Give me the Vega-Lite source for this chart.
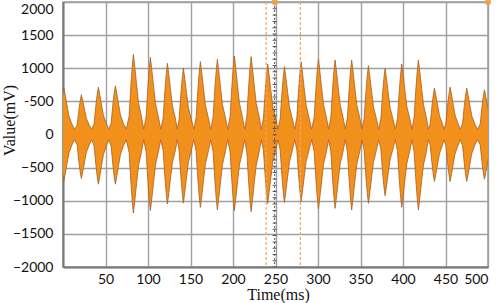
{
  "$schema": "https://vega.github.io/schema/vega-lite/v6.json",
  "width": 425,
  "height": 265,
  "autosize": {"type": "none"},
  "padding": {"left": 63, "top": 2, "right": 10, "bottom": 36},
  "background": "white",
  "config": {
    "view": {"stroke": "#9a9a9a", "strokeWidth": 1.5},
    "axis": {
      "labelFont": "Lato", "labelFontSize": 14, "labelColor": "#111",
      "titleFont": "Liberation Serif", "titleFontSize": 16, "titleFontWeight": "normal", "titleColor": "#111",
      "gridColor": "#a0a0a0", "gridWidth": 1.4, "gridOpacity": 1,
      "domainColor": "#7a7a7a", "domainWidth": 2, "tickSize": 0, "labelOverlap": false
    }
  },
  "datasets": {
    "sig": [
      {"t": -4, "hi": 161, "lo": -161}, {"t": -2, "hi": 420, "lo": -420}, {"t": -0.5, "hi": 581, "lo": -581}, {"t": 1, "hi": 700, "lo": -700}, {"t": 2.8, "hi": 581, "lo": -581}, {"t": 4.8, "hi": 434, "lo": -434}, {"t": 7, "hi": 280, "lo": -280}, {"t": 10.4, "hi": 161, "lo": -161}, {"t": 13.5, "hi": 80, "lo": -80},
      {"t": 16.6, "hi": 138, "lo": -153}, {"t": 18.6, "hi": 360, "lo": -399}, {"t": 20.1, "hi": 498, "lo": -552}, {"t": 21.6, "hi": 600, "lo": -665}, {"t": 23.4, "hi": 498, "lo": -552}, {"t": 25.4, "hi": 372, "lo": -412}, {"t": 27.6, "hi": 240, "lo": -266}, {"t": 31, "hi": 138, "lo": -153}, {"t": 33.8, "hi": 80, "lo": -80},
      {"t": 36.6, "hi": 164, "lo": -173}, {"t": 38.6, "hi": 429, "lo": -450}, {"t": 40.1, "hi": 593, "lo": -623}, {"t": 41.6, "hi": 715, "lo": -750}, {"t": 43.4, "hi": 593, "lo": -623}, {"t": 45.4, "hi": 443, "lo": -465}, {"t": 47.6, "hi": 286, "lo": -300}, {"t": 51, "hi": 164, "lo": -173}, {"t": 53.8, "hi": 80, "lo": -80},
      {"t": 56.6, "hi": 169, "lo": -173}, {"t": 58.6, "hi": 441, "lo": -450}, {"t": 60.1, "hi": 610, "lo": -623}, {"t": 61.6, "hi": 735, "lo": -750}, {"t": 63.4, "hi": 610, "lo": -623}, {"t": 65.4, "hi": 456, "lo": -465}, {"t": 67.6, "hi": 294, "lo": -300}, {"t": 71, "hi": 169, "lo": -173}, {"t": 74.4, "hi": 80, "lo": -80},
      {"t": 77.8, "hi": 278, "lo": -273}, {"t": 79.8, "hi": 726, "lo": -711}, {"t": 81.3, "hi": 1004, "lo": -984}, {"t": 82.8, "hi": 1210, "lo": -1185}, {"t": 84.6, "hi": 1004, "lo": -984}, {"t": 86.6, "hi": 750, "lo": -735}, {"t": 88.8, "hi": 484, "lo": -474}, {"t": 92.2, "hi": 278, "lo": -273}, {"t": 95, "hi": 80, "lo": -80},
      {"t": 97.8, "hi": 268, "lo": -265}, {"t": 99.8, "hi": 699, "lo": -690}, {"t": 101.3, "hi": 967, "lo": -955}, {"t": 102.8, "hi": 1165, "lo": -1150}, {"t": 104.6, "hi": 967, "lo": -955}, {"t": 106.6, "hi": 722, "lo": -713}, {"t": 108.8, "hi": 466, "lo": -460}, {"t": 112.2, "hi": 268, "lo": -265}, {"t": 115, "hi": 80, "lo": -80},
      {"t": 117.8, "hi": 247, "lo": -242}, {"t": 119.8, "hi": 645, "lo": -630}, {"t": 121.3, "hi": 892, "lo": -872}, {"t": 122.8, "hi": 1075, "lo": -1050}, {"t": 124.6, "hi": 892, "lo": -872}, {"t": 126.6, "hi": 667, "lo": -651}, {"t": 128.8, "hi": 430, "lo": -420}, {"t": 132.2, "hi": 247, "lo": -242}, {"t": 134.4, "hi": 80, "lo": -80},
      {"t": 136.6, "hi": 230, "lo": -238}, {"t": 138.6, "hi": 600, "lo": -621}, {"t": 140.1, "hi": 830, "lo": -859}, {"t": 141.6, "hi": 1000, "lo": -1035}, {"t": 143.4, "hi": 830, "lo": -859}, {"t": 145.4, "hi": 620, "lo": -642}, {"t": 147.6, "hi": 400, "lo": -414}, {"t": 151, "hi": 230, "lo": -238}, {"t": 153.8, "hi": 80, "lo": -80},
      {"t": 156.6, "hi": 253, "lo": -253}, {"t": 158.6, "hi": 660, "lo": -660}, {"t": 160.1, "hi": 913, "lo": -913}, {"t": 161.6, "hi": 1100, "lo": -1100}, {"t": 163.4, "hi": 913, "lo": -913}, {"t": 165.4, "hi": 682, "lo": -682}, {"t": 167.6, "hi": 440, "lo": -440}, {"t": 171, "hi": 253, "lo": -253}, {"t": 173.8, "hi": 80, "lo": -80},
      {"t": 176.6, "hi": 261, "lo": -262}, {"t": 178.6, "hi": 681, "lo": -684}, {"t": 180.1, "hi": 942, "lo": -946}, {"t": 181.6, "hi": 1135, "lo": -1140}, {"t": 183.4, "hi": 942, "lo": -946}, {"t": 185.4, "hi": 704, "lo": -707}, {"t": 187.6, "hi": 454, "lo": -456}, {"t": 191, "hi": 261, "lo": -262}, {"t": 193.8, "hi": 80, "lo": -80},
      {"t": 196.6, "hi": 273, "lo": -265}, {"t": 198.6, "hi": 711, "lo": -690}, {"t": 200.1, "hi": 984, "lo": -955}, {"t": 201.6, "hi": 1185, "lo": -1150}, {"t": 203.4, "hi": 984, "lo": -955}, {"t": 205.4, "hi": 735, "lo": -713}, {"t": 207.6, "hi": 474, "lo": -460}, {"t": 211, "hi": 273, "lo": -265}, {"t": 213.7, "hi": 80, "lo": -80},
      {"t": 216.3, "hi": 270, "lo": -268}, {"t": 218.3, "hi": 705, "lo": -699}, {"t": 219.8, "hi": 975, "lo": -967}, {"t": 221.3, "hi": 1175, "lo": -1165}, {"t": 223.1, "hi": 975, "lo": -967}, {"t": 225.1, "hi": 729, "lo": -722}, {"t": 227.3, "hi": 470, "lo": -466}, {"t": 230.7, "hi": 270, "lo": -268}, {"t": 233.3, "hi": 80, "lo": -80},
      {"t": 235.8, "hi": 245, "lo": -239}, {"t": 237.8, "hi": 639, "lo": -624}, {"t": 239.3, "hi": 884, "lo": -863}, {"t": 240.8, "hi": 1065, "lo": -1040}, {"t": 242.6, "hi": 884, "lo": -863}, {"t": 244.6, "hi": 660, "lo": -645}, {"t": 246.8, "hi": 426, "lo": -416}, {"t": 250.2, "hi": 245, "lo": -239}, {"t": 252.9, "hi": 80, "lo": -80},
      {"t": 255.5, "hi": 236, "lo": -236}, {"t": 257.5, "hi": 615, "lo": -615}, {"t": 259, "hi": 851, "lo": -851}, {"t": 260.5, "hi": 1025, "lo": -1025}, {"t": 262.3, "hi": 851, "lo": -851}, {"t": 264.3, "hi": 636, "lo": -636}, {"t": 266.5, "hi": 410, "lo": -410}, {"t": 269.9, "hi": 236, "lo": -236}, {"t": 272.5, "hi": 80, "lo": -80},
      {"t": 275.1, "hi": 253, "lo": -232}, {"t": 277.1, "hi": 660, "lo": -606}, {"t": 278.6, "hi": 913, "lo": -838}, {"t": 280.1, "hi": 1100, "lo": -1010}, {"t": 281.9, "hi": 913, "lo": -838}, {"t": 283.9, "hi": 682, "lo": -626}, {"t": 286.1, "hi": 440, "lo": -404}, {"t": 289.5, "hi": 253, "lo": -232}, {"t": 292.5, "hi": 80, "lo": -80},
      {"t": 295.5, "hi": 261, "lo": -259}, {"t": 297.5, "hi": 681, "lo": -675}, {"t": 299, "hi": 942, "lo": -934}, {"t": 300.5, "hi": 1135, "lo": -1125}, {"t": 302.3, "hi": 942, "lo": -934}, {"t": 304.3, "hi": 704, "lo": -698}, {"t": 306.5, "hi": 454, "lo": -450}, {"t": 309.9, "hi": 261, "lo": -259}, {"t": 312.5, "hi": 80, "lo": -80},
      {"t": 315.1, "hi": 259, "lo": -256}, {"t": 317.1, "hi": 675, "lo": -669}, {"t": 318.6, "hi": 934, "lo": -925}, {"t": 320.1, "hi": 1125, "lo": -1115}, {"t": 321.9, "hi": 934, "lo": -925}, {"t": 323.9, "hi": 698, "lo": -691}, {"t": 326.1, "hi": 450, "lo": -446}, {"t": 329.5, "hi": 259, "lo": -256}, {"t": 332.1, "hi": 80, "lo": -80},
      {"t": 334.6, "hi": 259, "lo": -262}, {"t": 336.6, "hi": 675, "lo": -684}, {"t": 338.1, "hi": 934, "lo": -946}, {"t": 339.6, "hi": 1125, "lo": -1140}, {"t": 341.4, "hi": 934, "lo": -946}, {"t": 343.4, "hi": 698, "lo": -707}, {"t": 345.6, "hi": 450, "lo": -456}, {"t": 349, "hi": 259, "lo": -262}, {"t": 351.7, "hi": 80, "lo": -80},
      {"t": 354.3, "hi": 239, "lo": -239}, {"t": 356.3, "hi": 624, "lo": -624}, {"t": 357.8, "hi": 863, "lo": -863}, {"t": 359.3, "hi": 1040, "lo": -1040}, {"t": 361.1, "hi": 863, "lo": -863}, {"t": 363.1, "hi": 645, "lo": -645}, {"t": 365.3, "hi": 416, "lo": -416}, {"t": 368.7, "hi": 239, "lo": -239}, {"t": 371.3, "hi": 80, "lo": -80},
      {"t": 373.9, "hi": 230, "lo": -213}, {"t": 375.9, "hi": 600, "lo": -555}, {"t": 377.4, "hi": 830, "lo": -768}, {"t": 378.9, "hi": 1000, "lo": -925}, {"t": 380.7, "hi": 830, "lo": -768}, {"t": 382.7, "hi": 620, "lo": -574}, {"t": 384.9, "hi": 400, "lo": -370}, {"t": 388.3, "hi": 230, "lo": -213}, {"t": 390.9, "hi": 80, "lo": -80},
      {"t": 393.5, "hi": 245, "lo": -253}, {"t": 395.5, "hi": 639, "lo": -660}, {"t": 397, "hi": 884, "lo": -913}, {"t": 398.5, "hi": 1065, "lo": -1100}, {"t": 400.3, "hi": 884, "lo": -913}, {"t": 402.3, "hi": 660, "lo": -682}, {"t": 404.5, "hi": 426, "lo": -440}, {"t": 407.9, "hi": 245, "lo": -253}, {"t": 410.5, "hi": 80, "lo": -80},
      {"t": 413.1, "hi": 259, "lo": -262}, {"t": 415.1, "hi": 675, "lo": -684}, {"t": 416.6, "hi": 934, "lo": -946}, {"t": 418.1, "hi": 1125, "lo": -1140}, {"t": 419.9, "hi": 934, "lo": -946}, {"t": 421.9, "hi": 698, "lo": -707}, {"t": 424.1, "hi": 450, "lo": -456}, {"t": 427.5, "hi": 259, "lo": -262}, {"t": 429.8, "hi": 80, "lo": -80},
      {"t": 432, "hi": 161, "lo": -163}, {"t": 434, "hi": 420, "lo": -426}, {"t": 435.5, "hi": 581, "lo": -589}, {"t": 437, "hi": 700, "lo": -710}, {"t": 438.8, "hi": 581, "lo": -589}, {"t": 440.8, "hi": 434, "lo": -440}, {"t": 443, "hi": 280, "lo": -284}, {"t": 446.4, "hi": 161, "lo": -163}, {"t": 448.4, "hi": 80, "lo": -80},
      {"t": 450.4, "hi": 164, "lo": -163}, {"t": 452.4, "hi": 429, "lo": -426}, {"t": 453.9, "hi": 593, "lo": -589}, {"t": 455.4, "hi": 715, "lo": -710}, {"t": 457.2, "hi": 593, "lo": -589}, {"t": 459.2, "hi": 443, "lo": -440}, {"t": 461.4, "hi": 286, "lo": -284}, {"t": 464.8, "hi": 164, "lo": -163}, {"t": 467.4, "hi": 80, "lo": -80},
      {"t": 470, "hi": 161, "lo": -163}, {"t": 472, "hi": 420, "lo": -426}, {"t": 473.5, "hi": 581, "lo": -589}, {"t": 475, "hi": 700, "lo": -710}, {"t": 476.8, "hi": 581, "lo": -589}, {"t": 478.8, "hi": 434, "lo": -440}, {"t": 481, "hi": 280, "lo": -284}, {"t": 484.4, "hi": 161, "lo": -163}, {"t": 487.6, "hi": 80, "lo": -80},
      {"t": 490.8, "hi": 155, "lo": -155}, {"t": 492.8, "hi": 405, "lo": -405}, {"t": 494.3, "hi": 560, "lo": -560}, {"t": 495.8, "hi": 675, "lo": -675}, {"t": 497.6, "hi": 560, "lo": -560}, {"t": 499.6, "hi": 419, "lo": -419}, {"t": 501.8, "hi": 270, "lo": -270}, {"t": 505.2, "hi": 155, "lo": -155}
    ],
    "orangeCursors": [{"x": 239}, {"x": 279.3}],
    "blackCursor": [{"x": 249}],
    "markers": [{"x": 249, "y": 2000}, {"x": 500, "y": 2000}]
  },
  "layer": [
    {
      "data": {"name": "sig"},
      "mark": {"type": "area", "clip": true, "color": "#F2901C", "stroke": "#A95E1E", "strokeWidth": 0.8, "interpolate": "linear"},
      "encoding": {
        "x": {"field": "t", "type": "quantitative",
          "scale": {"domain": [0, 500], "nice": false, "zero": false},
          "axis": {"values": [0, 50, 100, 150, 200, 250, 300, 350, 400, 450, 500], "tickCount": 11,
            "labelExpr": "datum.value == 0 ? '' : datum.label",
            "labelPadding": 5, "title": "Time(ms)", "titleBaseline": "alphabetic", "titleY": 32, "titleX": 215}},
        "y": {"field": "hi", "type": "quantitative",
          "scale": {"domain": [-2000, 2000], "nice": false},
          "axis": {"values": [-2000, -1500, -1000, -500, 0, 500, 1000, 1500, 2000], "tickCount": 9, "format": "d",
            "labelExpr": "datum.value == 500 ? '-500' : datum.label",
            "labelBaseline": {"condition": {"test": "datum.value == 2000", "value": "top"}, "value": "middle"},
            "labelPadding": 10, "title": "Value(mV)", "titleBaseline": "alphabetic", "titleX": -49, "titleY": 118}},
        "y2": {"field": "lo"}
      }
    },
    {
      "data": {"name": "orangeCursors"},
      "mark": {"type": "rule", "color": "#F2A560", "strokeWidth": 1.2, "strokeDash": [3, 2]},
      "encoding": {"x": {"field": "x", "type": "quantitative"}}
    },
    {
      "data": {"name": "blackCursor"},
      "mark": {"type": "rule", "color": "#555555", "strokeWidth": 1, "strokeDash": [2, 2]},
      "encoding": {"x": {"field": "x", "type": "quantitative"}}
    },
    {
      "data": {"name": "blackCursor"},
      "mark": {"type": "rule", "color": "#555555", "strokeWidth": 4, "strokeDash": [1, 5.3]},
      "encoding": {"x": {"field": "x", "type": "quantitative"}}
    },
    {
      "data": {"name": "markers"},
      "mark": {"type": "point", "filled": true, "color": "#F0A050", "size": 40, "opacity": 0.9},
      "encoding": {"x": {"field": "x", "type": "quantitative"}, "y": {"field": "y", "type": "quantitative"}}
    }
  ]
}
